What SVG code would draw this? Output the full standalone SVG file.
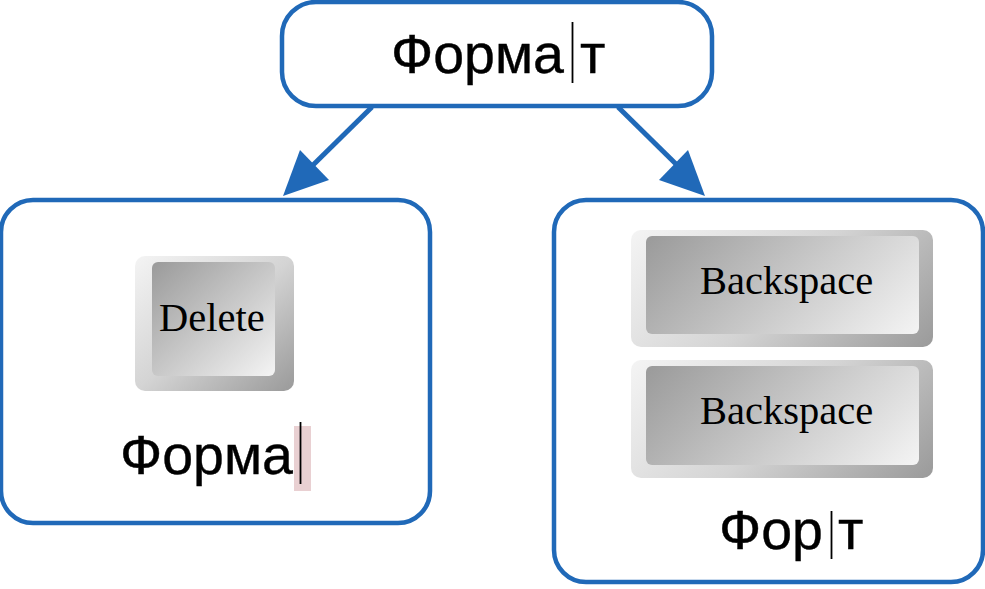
<svg xmlns="http://www.w3.org/2000/svg" width="985" height="589" viewBox="0 0 985 589">
<defs>
<linearGradient id="outer" x1="0" y1="0" x2="1" y2="1"><stop offset="0" stop-color="#f4f4f4"/><stop offset="0.5" stop-color="#d4d4d4"/><stop offset="1" stop-color="#9a9a9a"/></linearGradient>
<linearGradient id="inner" x1="0" y1="0" x2="1" y2="1"><stop offset="0" stop-color="#9a9a9a"/><stop offset="1" stop-color="#f4f4f4"/></linearGradient>
<linearGradient id="outerA" gradientUnits="userSpaceOnUse" x1="677.250" y1="183.750" x2="886.750" y2="393.250"><stop offset="0" stop-color="#f4f4f4"/><stop offset="0.5" stop-color="#d4d4d4"/><stop offset="1" stop-color="#9a9a9a"/></linearGradient>
<linearGradient id="innerA" gradientUnits="userSpaceOnUse" x1="689.750" y1="192.250" x2="875.250" y2="377.750"><stop offset="0" stop-color="#9a9a9a"/><stop offset="1" stop-color="#f4f4f4"/></linearGradient>
<linearGradient id="outerB" gradientUnits="userSpaceOnUse" x1="677.250" y1="314.250" x2="886.750" y2="523.750"><stop offset="0" stop-color="#f4f4f4"/><stop offset="0.5" stop-color="#d4d4d4"/><stop offset="1" stop-color="#9a9a9a"/></linearGradient>
<linearGradient id="innerB" gradientUnits="userSpaceOnUse" x1="689.750" y1="322.750" x2="875.250" y2="508.250"><stop offset="0" stop-color="#9a9a9a"/><stop offset="1" stop-color="#f4f4f4"/></linearGradient>
</defs>
<style>
.box{fill:#fff;stroke:#2069b8;stroke-width:4.500}
.label{font-family:"Liberation Sans",Arial,sans-serif;font-size:55.500px;fill:#000;stroke:#000;stroke-width:0.400}
.key{font-family:"Liberation Serif","Times New Roman",serif;font-size:40.500px;fill:#000}
.caret{stroke:#000;stroke-width:1.800}
.link{stroke:#2069b8;stroke-width:5;fill:none}
.head{fill:#2069b8}
</style>
<g id="connectors">
<line class="link" x1="372" y1="107" x2="310" y2="168"/>
<polygon class="head" points="283,196 300,150 329,180"/>
<line class="link" x1="618" y1="107" x2="680" y2="168"/>
<polygon class="head" points="705,196 688,150 659,180"/>
</g>
<g id="node-top">
<rect class="box" x="282" y="2" width="430" height="104" rx="34"/>
<text class="label" x="391" y="73">Форма</text>
<line class="caret" x1="572.500" y1="22" x2="572.500" y2="83"/>
<text class="label" x="580" y="73">т</text>
</g>
<g id="node-left">
<rect class="box" x="1" y="200" width="429" height="323" rx="32"/>
<rect x="135" y="256" width="159" height="135" rx="10" fill="url(#outer)"/>
<rect x="152" y="262" width="123" height="114" rx="6" fill="url(#inner)"/>
<text class="key" x="159" y="331">Delete</text>
<rect x="294" y="426" width="17" height="65" fill="#e9d0d2"/>
<text class="label" x="120" y="474">Форма</text>
<line class="caret" x1="300.500" y1="422" x2="300.500" y2="484"/>
</g>
<g id="node-right">
<rect class="box" x="554" y="200" width="429" height="382" rx="32"/>
<rect x="631" y="230" width="302" height="117" rx="10" fill="url(#outerA)"/>
<rect x="646" y="236" width="273" height="98" rx="6" fill="url(#innerA)"/>
<text class="key" x="700" y="294">Backspace</text>
<rect x="631" y="360" width="302" height="118" rx="10" fill="url(#outerB)"/>
<rect x="646" y="366" width="273" height="99" rx="6" fill="url(#innerB)"/>
<text class="key" x="700" y="424">Backspace</text>
<text class="label" x="719" y="549">Фор</text>
<line class="caret" x1="831.500" y1="511" x2="831.500" y2="559"/>
<text class="label" x="838" y="549">т</text>
</g>
</svg>
